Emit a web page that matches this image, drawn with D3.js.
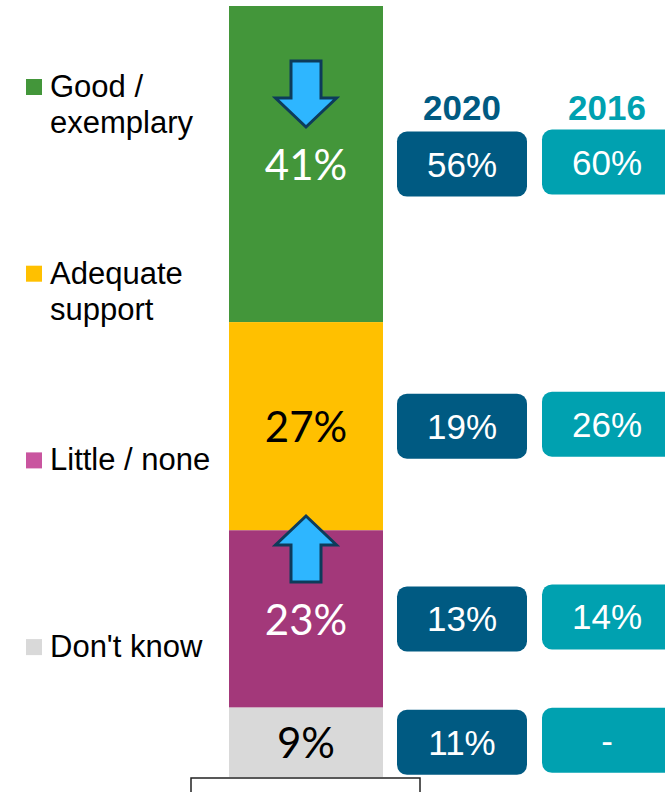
<!DOCTYPE html>
<html>
<head>
<meta charset="utf-8">
<script src="https://cdn.jsdelivr.net/npm/d3@7"></script>
<style>
  body { margin: 0; background: #fff; }
  svg { display: block; }
</style>
</head>
<body>
<div id="chart"></div>
<script>
// data
const categories = ["Good / exemplary", "Adequate support", "Little / none", "Don't know"];
const legendLines = [["Good /", "exemplary"], ["Adequate", "support"], ["Little / none"], ["Don't know"]];
const currentValues = [41, 27, 23, 9];
const values2020 = [56, 19, 13, 11];
const values2016 = [60, 26, 14, null];
const years = ["2020", "2016"];
const arrows = [
    {category: "Good / exemplary", dir: "down"},
    {category: "Little / none", dir: "up"}
];

const barColors = ["#43963A", "#FFC000", "#A3387A", "#D9D9D9"];
const swatchColors = ["#43963A", "#FFC000", "#C9559F", "#D9D9D9"];
const labelColors = ["#fff", "#000", "#fff", "#000"];
const yearColors = {"2020": "#005A82", "2016": "#00A1B0"};

const W = 665, H = 792;

let svg = d3.select("#chart").append("svg")
    .attr("width", W)
    .attr("height", H);

const y = d3.scaleLinear().domain([0, 100]).range([6, 777]);

// stacked segments, top to bottom
let acc = 0;
const segs = categories.map((c, i) => {
    const s = {cat: c, i: i, v: currentValues[i], y0: acc, y1: acc + currentValues[i]};
    acc += currentValues[i];
    s.mid = (y(s.y0) + y(s.y1)) / 2;
    return s;
});

const barX = 229, barW = 154;

svg.selectAll("rect.seg")
    .data(segs)
    .enter()
    .append("rect")
    .attr("class", "seg")
    .attr("x", barX)
    .attr("width", barW)
    .attr("y", d => y(d.y0))
    .attr("height", d => y(d.y1) - y(d.y0))
    .attr("fill", d => barColors[d.i]);

svg.selectAll("text.segLabel")
    .data(segs)
    .enter()
    .append("text")
    .attr("class", "segLabel")
    .attr("x", barX + barW / 2)
    .attr("y", d => d.mid + 16)
    .attr("text-anchor", "middle")
    .attr("font-family", "Lato, 'Open Sans', sans-serif")
    .attr("font-size", 42)
    .attr("fill", d => labelColors[d.i])
    .text(d => d.v + "%");

// arrows
const arrowPath = function(dir){
    const s = dir === "down" ? 1 : -1;
    const p = [[-15, -33], [15, -33], [15, 4], [30.5, 4], [0, 33], [-30.5, 4], [-15, 4]];
    return "M" + p.map(q => q[0] + "," + (q[1] * s)).join("L") + "Z";
};

svg.selectAll("path.arrow")
    .data(arrows)
    .enter()
    .append("path")
    .attr("class", "arrow")
    .attr("d", d => arrowPath(d.dir))
    .attr("transform", d => {
        const seg = segs.find(s => s.cat === d.category);
        return `translate(${barX + barW / 2},${seg.mid - 70})`;
    })
    .attr("fill", "#2EB6FF")
    .attr("stroke", "#0D3B5A")
    .attr("stroke-width", 3)
    .attr("stroke-linejoin", "miter");

// legend
let legend = svg.selectAll("g.legend")
    .data(categories)
    .enter()
    .append("g")
    .attr("class", "legend")
    .attr("transform", (d, i) => `translate(0,${97 + i * 186.7})`);

legend.append("rect")
    .attr("x", 26)
    .attr("y", -18)
    .attr("width", 16)
    .attr("height", 16)
    .attr("fill", (d, i) => swatchColors[i]);

legend.append("text")
    .attr("font-family", "'Liberation Sans', Arial, sans-serif")
    .attr("font-size", 31)
    .attr("fill", "#000")
    .each(function(d, i){
        d3.select(this).selectAll("tspan")
            .data(legendLines[i])
            .enter()
            .append("tspan")
            .attr("x", 50)
            .attr("y", (t, j) => j * 36)
            .text(t => t);
    });

// comparison boxes
const cols = [
    {year: "2020", x: 397, w: 130, dy: 0, vals: values2020},
    {year: "2016", x: 542, w: 140, dy: -2, vals: values2016}
];

cols.forEach(col => {
    svg.append("text")
        .attr("x", col.x + 65)
        .attr("y", 120)
        .attr("text-anchor", "middle")
        .attr("font-family", "'Liberation Sans', Arial, sans-serif")
        .attr("font-weight", "bold")
        .attr("font-size", 35)
        .attr("fill", yearColors[col.year])
        .text(col.year);

    let g = svg.selectAll("g.box" + col.year)
        .data(segs)
        .enter()
        .append("g")
        .attr("class", "box" + col.year)
        .attr("transform", d => `translate(${col.x},${d.mid + col.dy})`);

    g.append("rect")
        .attr("x", 0)
        .attr("y", -32.5)
        .attr("width", col.w)
        .attr("height", 65)
        .attr("rx", 10)
        .attr("fill", yearColors[col.year]);

    g.append("text")
        .attr("x", 65)
        .attr("y", 12.5)
        .attr("text-anchor", "middle")
        .attr("font-family", "'Liberation Sans', Arial, sans-serif")
        .attr("font-size", 35)
        .attr("fill", "#fff")
        .text(d => col.vals[d.i] == null ? "-" : col.vals[d.i] + "%");
});

// empty text frame at the bottom
svg.append("rect")
    .attr("x", 191)
    .attr("y", 778)
    .attr("width", 229)
    .attr("height", 30)
    .attr("fill", "#fff")
    .attr("stroke", "#222")
    .attr("stroke-width", 1.5);
</script>
</body>
</html>
